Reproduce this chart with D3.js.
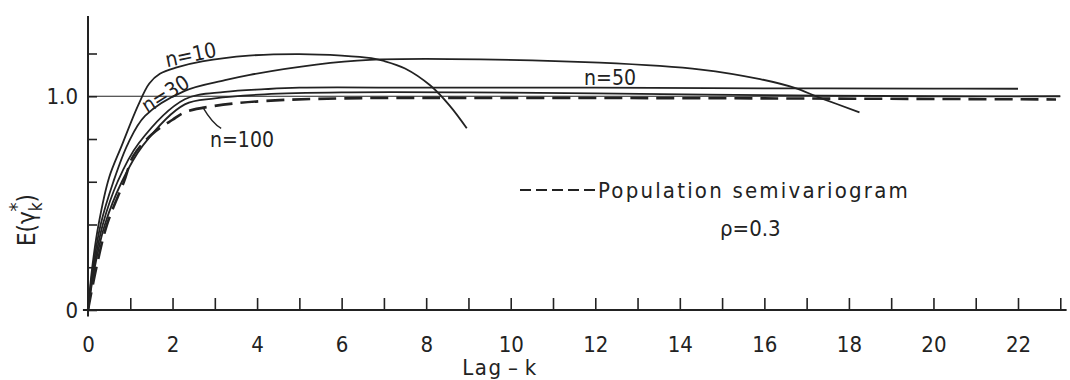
<!DOCTYPE html>
<html>
<head>
<meta charset="utf-8">
<script src="https://cdn.jsdelivr.net/npm/d3@7"></script>
<style>
body { margin: 0; background: #fff; }
svg text { font-family: "DejaVu Sans Condensed", "DejaVu Sans", sans-serif; font-stretch: condensed; fill: #222; }
</style>
</head>
<body>
<svg id="chart" width="1070" height="380"></svg>
<script>
// curves: [lag k, E(gamma*)]
var curveN10  = [[0,0],[0.1,0.2],[0.25,0.4],[0.5,0.62],[0.8,0.77],[1.18,0.955],[1.45,1.06],[1.7,1.105],[2.1,1.135],[2.7,1.163],[3.8,1.19],[5,1.197],[6,1.19],[6.7,1.178],[7.0,1.165],[7.5,1.13],[8.1,1.05],[8.56,0.955],[8.96,0.85]];
var curveN30  = [[0,0],[0.12,0.2],[0.3,0.4],[0.6,0.6],[0.95,0.78],[1.35,0.908],[2.29,1.025],[3.24,1.075],[3.83,1.1],[5.4,1.148],[6.67,1.17],[8.56,1.174],[12.1,1.157],[14.5,1.125],[15.9,1.08],[16.7,1.04],[17.3,0.994],[18.25,0.925]];
var curveN50  = [[0,0],[0.14,0.2],[0.35,0.4],[0.7,0.6],[1.2,0.78],[2.29,0.986],[3.24,1.02],[4.18,1.033],[5,1.04],[8,1.04],[12,1.04],[16,1.037],[20,1.036],[22,1.035]];
var curveN100 = [[0,0],[0.16,0.2],[0.4,0.4],[0.8,0.6],[1.3,0.77],[2.29,0.962],[3,0.99],[4.18,1.009],[6,1.018],[9,1.018],[12,1.013],[16,1.005],[20,1.0],[23,1.0]];
var curvePop  = [[0,0],[0.2,0.2],[0.45,0.4],[0.85,0.6],[1.07,0.72],[1.5,0.82],[2,0.89],[2.29,0.925],[3,0.955],[4.18,0.978],[6,0.99],[10,0.992],[16,0.99],[22.9,0.985]];

var refLevel = 1.0;
var xTicks = d3.range(0, 24);
var yTicks = [0, 0.2, 0.4, 0.6, 0.8, 1.0, 1.2];
var yLabels = {0: "0", 1: "1.0"};

var svg = d3.select("#chart");
var ink = "#222";

var x = d3.scaleLinear().domain([0, 22]).range([88, 1018]);
var y = d3.scaleLinear().domain([0, 1.2]).range([310, 53.5]);

var line = d3.line()
	.x(function(d){ return x(d[0]); })
	.y(function(d){ return y(d[1]); })
	.curve(d3.curveCatmullRom.alpha(0.5));

// axes
var xAxis = d3.axisBottom(x)
	.tickValues(xTicks)
	.tickSize(-12)
	.tickSizeOuter(0)
	.tickPadding(26)
	.tickFormat(function(d){ return d % 2 == 0 ? d : ""; });

var gx = svg.append("g").attr("transform", "translate(0," + y(0) + ")").call(xAxis);
gx.select(".domain").remove();
gx.selectAll("line").attr("stroke", ink).attr("stroke-width", 1.6);
gx.selectAll("text").style("font-size", "22px").attr("fill", ink).attr("font-family", null);

var yAxis = d3.axisLeft(y)
	.tickValues(yTicks)
	.tickSize(-9)
	.tickSizeOuter(0)
	.tickPadding(10)
	.tickFormat(function(d){ return yLabels[d] || ""; });

var gy = svg.append("g").attr("transform", "translate(" + x(0) + ",0)").call(yAxis);
gy.select(".domain").remove();
gy.selectAll("line").attr("stroke", ink).attr("stroke-width", 1.6);
gy.selectAll("text").style("font-size", "22px").attr("fill", ink).attr("font-family", null);

// axis lines, slightly overshooting like the original
svg.append("line")
	.attr("x1", x(-0.12)).attr("x2", x(23.15))
	.attr("y1", y(0)).attr("y2", y(0))
	.attr("stroke", ink).attr("stroke-width", 2);
svg.append("line")
	.attr("x1", x(0)).attr("x2", x(0))
	.attr("y1", y(-0.03)).attr("y2", y(1.375))
	.attr("stroke", ink).attr("stroke-width", 2);

// reference line at 1.0
svg.append("line")
	.attr("x1", x(0)).attr("x2", x(23))
	.attr("y1", y(refLevel)).attr("y2", y(refLevel))
	.attr("stroke", ink).attr("stroke-width", 1.2);

// sample curves
[curveN10, curveN30, curveN50, curveN100].forEach(function(c){
	svg.append("path")
		.attr("d", line(c))
		.attr("fill", "none")
		.attr("stroke", ink)
		.attr("stroke-width", 1.8);
});

// population semivariogram
svg.append("path")
	.attr("d", line(curvePop))
	.attr("fill", "none")
	.attr("stroke", ink)
	.attr("stroke-width", 2.6)
	.attr("stroke-dasharray", "18,8");

// curve labels
function label(txt, px, py, rot) {
	svg.append("text")
		.attr("transform", "translate(" + px + "," + py + ") rotate(" + rot + ")")
		.attr("text-anchor", "middle")
		.attr("dominant-baseline", "middle")
		.style("font-size", "21px")
		.text(txt);
}
label("n=10", 191, 56, -12);
label("n=30", 166, 95, -32);
label("n=50", 610, 79, 0);
label("n=100", 242, 141, 0);

// pointer for n=100
svg.append("path")
	.attr("d", "M" + x(2.71) + "," + y(0.95) + " Q" + x(2.95) + "," + y(0.87) + " " + x(3.15) + "," + y(0.85))
	.attr("fill", "none").attr("stroke", ink).attr("stroke-width", 1.4);

// legend
svg.append("line")
	.attr("x1", 520).attr("x2", 596)
	.attr("y1", 190).attr("y2", 190)
	.attr("stroke", ink).attr("stroke-width", 2)
	.attr("stroke-dasharray", "11,5");
svg.append("text")
	.attr("x", 598).attr("y", 198)
	.style("font-size", "22px")
	.style("letter-spacing", "2.2px")
	.text("Population semivariogram");
svg.append("text")
	.attr("x", 720).attr("y", 236)
	.style("font-size", "22px")
	.text("\u03c1=0.3");

// axis titles
svg.append("text")
	.attr("x", 500).attr("y", 375)
	.attr("text-anchor", "middle")
	.style("font-size", "22px")
	.style("letter-spacing", "1.5px")
	.text("Lag\u2009\u2013\u2009k");

var yt = svg.append("text")
	.attr("transform", "translate(35,220) rotate(-90)")
	.attr("text-anchor", "middle")
	.style("font-size", "24px");
yt.append("tspan").text("E(\u03b3");
yt.append("tspan").attr("dy", 7).style("font-size", "17px").text("k");
yt.append("tspan").attr("dx", -9).attr("dy", -19).style("font-size", "20px").text("*");
yt.append("tspan").attr("dy", 12).text(")");
</script>
</body>
</html>
